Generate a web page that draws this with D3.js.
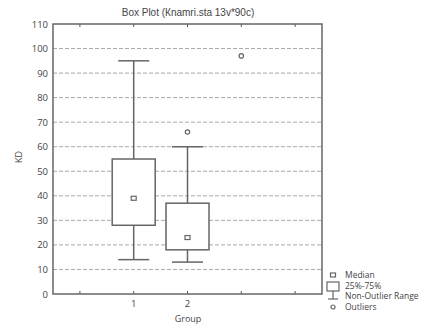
<!DOCTYPE html>
<html>
  <head>
    <script src="https://d3js.org/d3.v7.min.js" charset="utf-8"></script>
    <style>
      body { margin: 0; background: #fff; }
      text { font-family: "Open Sans", sans-serif; fill: #444; }
    </style>
  </head>
  <body>
    <svg></svg>
    <script>
      // x positions of the frame (STATISTICA style: 5 slots, groups in 2nd and 3rd)
      const slots = ["", "1", "2", "", ""];
      const groups = ["1", "2"];
      const whiskerLow = [14, 13];
      const q1 = [28, 18];
      const median = [39, 23];
      const q3 = [55, 37];
      const whiskerHigh = [95, 60];
      const outlierSlot = [2, 3];
      const outlierValue = [66, 97];
      const yTicks = [0, 10, 20, 30, 40, 50, 60, 70, 80, 90, 100, 110];

      const W = 432, H = 324;
      const margin = { top: 24, right: 110, bottom: 30, left: 53 };
      const width = 322 - margin.left;
      const height = 294 - margin.top;

      const svg = d3.select("svg").attr("width", W).attr("height", H);
      const g = svg.append("g").attr("transform", `translate(${margin.left},${margin.top})`);

      const x = d3.scaleBand().domain(d3.range(slots.length)).range([0, width]);
      const cx = (i) => x(i) + x.bandwidth() / 2;
      const y = d3.scaleLinear().domain([0, 110]).range([height, 0]);

      // grid
      g.selectAll(".grid")
        .data(yTicks.filter((d) => d > 0 && d < 110))
        .enter()
        .append("line")
        .attr("x1", 0)
        .attr("x2", width)
        .attr("y1", (d) => y(d))
        .attr("y2", (d) => y(d))
        .attr("stroke", "#aaa")
        .attr("stroke-width", 1)
        .attr("stroke-dasharray", "4,2");

      // axes
      const yAxis = g.append("g").call(d3.axisLeft(y).tickValues(yTicks).tickSize(0).tickPadding(5));
      yAxis.select(".domain").remove();
      yAxis.selectAll("text").style("font-size", "9.5px").attr("fill", "#444");

      const xAxis = g.append("g")
        .attr("transform", `translate(0,${height})`)
        .call(d3.axisBottom(x).tickFormat((i) => slots[i]).tickSize(-3).tickPadding(6));
      xAxis.select(".domain").remove();
      xAxis.selectAll("line").attr("stroke", "#555");
      xAxis.selectAll("text").style("font-size", "9.5px").attr("fill", "#444");

      const topAxis = g.append("g").call(d3.axisTop(x).tickFormat("").tickSize(-3));
      topAxis.select(".domain").remove();
      topAxis.selectAll("line").attr("stroke", "#555");

      // frame
      g.append("rect")
        .attr("width", width)
        .attr("height", height)
        .attr("fill", "none")
        .attr("stroke", "#666")
        .attr("stroke-width", 1.5);

      const stroke = "#666";
      const boxW = 43, capW = 31;

      groups.forEach((grp, k) => {
        const c = cx(k + 1);
        g.append("line")
          .attr("x1", c).attr("x2", c)
          .attr("y1", y(whiskerHigh[k])).attr("y2", y(q3[k]))
          .attr("stroke", stroke).attr("stroke-width", 1.5);
        g.append("line")
          .attr("x1", c).attr("x2", c)
          .attr("y1", y(q1[k])).attr("y2", y(whiskerLow[k]))
          .attr("stroke", stroke).attr("stroke-width", 1.5);
        [whiskerHigh[k], whiskerLow[k]].forEach((v) => {
          g.append("line")
            .attr("x1", c - capW / 2).attr("x2", c + capW / 2)
            .attr("y1", y(v)).attr("y2", y(v))
            .attr("stroke", stroke).attr("stroke-width", 1.5);
        });
        g.append("rect")
          .attr("x", c - boxW / 2)
          .attr("y", y(q3[k]))
          .attr("width", boxW)
          .attr("height", y(q1[k]) - y(q3[k]))
          .attr("fill", "#fff")
          .attr("stroke", stroke)
          .attr("stroke-width", 1.5);
        g.append("rect")
          .attr("x", c - 2.5)
          .attr("y", y(median[k]) - 2)
          .attr("width", 5)
          .attr("height", 4)
          .attr("fill", "none")
          .attr("stroke", stroke)
          .attr("stroke-width", 1.2);
      });

      outlierValue.forEach((v, i) => {
        g.append("circle")
          .attr("cx", cx(outlierSlot[i]))
          .attr("cy", y(v))
          .attr("r", 2.2)
          .attr("fill", "none")
          .attr("stroke", stroke)
          .attr("stroke-width", 1.2);
      });

      // titles
      svg.append("text")
        .attr("x", 188)
        .attr("y", 16)
        .attr("text-anchor", "middle")
        .style("font-family", "'Liberation Sans', Arial, sans-serif")
        .style("font-size", "10px")
        .attr("fill", "#333")
        .text("Box Plot (Кnamri.sta 13v*90c)");

      svg.append("text")
        .attr("transform", "translate(22,157) rotate(-90)")
        .attr("text-anchor", "middle")
        .style("font-size", "9px")
        .text("KD");

      svg.append("text")
        .attr("x", 188)
        .attr("y", 322)
        .attr("text-anchor", "middle")
        .style("font-size", "9px")
        .text("Group");

      // legend
      const lg = svg.append("g").attr("transform", "translate(333,0)");
      lg.append("rect").attr("x", -2.5).attr("y", 273).attr("width", 5).attr("height", 4)
        .attr("fill", "none").attr("stroke", stroke).attr("stroke-width", 1.2);
      lg.append("rect").attr("x", -6).attr("y", 282).attr("width", 12).attr("height", 9)
        .attr("fill", "none").attr("stroke", stroke).attr("stroke-width", 1.2);
      lg.append("line").attr("x1", 0).attr("x2", 0).attr("y1", 291).attr("y2", 299)
        .attr("stroke", stroke).attr("stroke-width", 1.2);
      lg.append("line").attr("x1", -5).attr("x2", 5).attr("y1", 299).attr("y2", 299)
        .attr("stroke", stroke).attr("stroke-width", 1.2);
      lg.append("circle").attr("cx", 0).attr("cy", 307).attr("r", 2)
        .attr("fill", "none").attr("stroke", stroke).attr("stroke-width", 1.2);

      const legendText = ["Median", "25%-75%", "Non-Outlier Range", "Outliers"];
      const legendY = [278, 288.5, 299, 309.5];
      legendText.forEach((t, i) => {
        lg.append("text").attr("x", 12).attr("y", legendY[i])
          .style("font-size", "8.5px").text(t);
      });
    </script>
  </body>
</html>
